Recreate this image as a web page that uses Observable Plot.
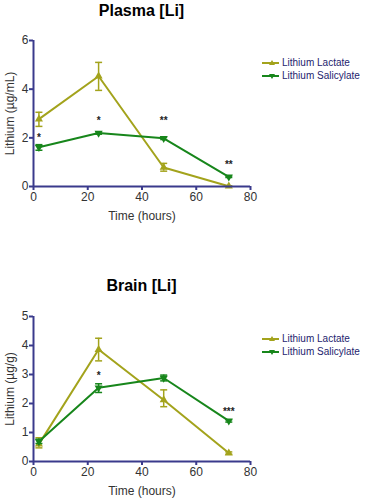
<!DOCTYPE html>
<html>
<head>
<meta charset="utf-8">
<script src="https://cdn.jsdelivr.net/npm/d3@7"></script>
<script src="https://cdn.jsdelivr.net/npm/@observablehq/plot@0.6"></script>
<style>
  body { margin: 0; background: #fff; font-family: "Liberation Sans", Arial, sans-serif; }
  #wrap { position: relative; width: 368px; height: 500px; overflow: hidden; }
  .panel { position: absolute; left: 0; width: 368px; }
  .title { position: absolute; left: 0; width: 283px; text-align: center; font-weight: bold; font-size: 16px; color: #000; }
  .legend { position: absolute; left: 261px; font-size: 10px; color: #24246e; line-height: 13px; white-space: nowrap; }
  .legend div { display: flex; align-items: center; height: 13px; }
  .legend svg { margin-right: 3px; flex: none; }
</style>
</head>
<body>
<div id="wrap"></div>
<script>
// ---- data ----
const hours = [2, 24, 48, 72];
const seriesNames = ["Lithium Lactate", "Lithium Salicylate"];

const plasmaLactate = [2.77, 4.53, 0.78, 0.01];
const plasmaLactateLo = [2.47, 3.95, 0.63, 0.0];
const plasmaLactateHi = [3.05, 5.1, 0.95, 0.03];
const plasmaSalicylate = [1.61, 2.2, 1.98, 0.4];
const plasmaSalicylateLo = [1.49, 2.15, 1.93, 0.37];
const plasmaSalicylateHi = [1.72, 2.25, 2.03, 0.43];
const plasmaStarX = [2, 24, 48, 72];
const plasmaStarY = [2.02, 2.72, 2.72, 0.88];
const plasmaStars = ["*", "*", "**", "**"];

const brainLactate = [0.6, 3.86, 2.12, 0.29];
const brainLactateLo = [0.47, 3.47, 1.89, 0.25];
const brainLactateHi = [0.82, 4.25, 2.47, 0.33];
const brainSalicylate = [0.69, 2.54, 2.88, 1.4];
const brainSalicylateLo = [0.62, 2.38, 2.78, 1.36];
const brainSalicylateHi = [0.77, 2.68, 2.98, 1.44];
const brainStarX = [24, 72];
const brainStarY = [2.96, 1.72];
const brainStars = ["*", "***"];

const colors = ["#a3a31c", "#17861b"];
const axisColor = "#3a3a8c";

const capSymbol = {
  draw(ctx, size) {
    const w = Math.sqrt(size / Math.PI);
    ctx.moveTo(-w, 0);
    ctx.lineTo(w, 0);
  }
};

function build(vals, los, his, name) {
  return hours.map((h, i) => ({ x: h, y: vals[i], lo: los[i], hi: his[i], s: name }));
}

function chart(opts) {
  const lac = build(opts.lac, opts.lacLo, opts.lacHi, seriesNames[0]);
  const sal = build(opts.sal, opts.salLo, opts.salHi, seriesNames[1]);
  const stars = opts.starX.map((x, i) => ({ x, y: opts.starY[i], t: opts.stars[i] }));
  const marks = [];
  [[lac, 0, "triangle", 0], [sal, 1, "triangle", 180]].forEach(([d, k, sym, rot]) => {
    marks.push(Plot.ruleX(d, { x: "x", y1: "lo", y2: "hi", stroke: colors[k], strokeWidth: 1.5 }));
    marks.push(Plot.dot(d, { x: "x", y: "lo", symbol: capSymbol, r: 3.5, stroke: colors[k], strokeWidth: 1.5 }));
    marks.push(Plot.dot(d, { x: "x", y: "hi", symbol: capSymbol, r: 3.5, stroke: colors[k], strokeWidth: 1.5 }));
    marks.push(Plot.line(d, { x: "x", y: "y", stroke: colors[k], strokeWidth: 2 }));
    marks.push(Plot.dot(d, { x: "x", y: "y", symbol: sym, rotate: rot, r: 3, fill: colors[k], stroke: "none" }));
  });
  marks.push(Plot.text(stars, { x: "x", y: "y", text: "t", fontSize: 10, fontWeight: "bold", fill: "#222" }));
  marks.push(Plot.axisX({ ticks: [0, 20, 40, 60, 80], tickFormat: "d", tickSize: 4, stroke: axisColor, strokeWidth: 2, fill: "#333", fontSize: 12, tickPadding: 2,
    label: "Time (hours)", labelAnchor: "center", labelArrow: "none", labelOffset: 33 }));
  marks.push(Plot.axisY({ ticks: opts.yTicks, tickFormat: "d", tickSize: 4, stroke: axisColor, strokeWidth: 2, fill: "#333", fontSize: 12, tickPadding: 1,
    label: opts.yLabel, labelAnchor: "center", labelArrow: "none", labelOffset: 28 }));
  marks.push(Plot.ruleY([0], { stroke: axisColor, strokeWidth: 2 }));
  marks.push(Plot.ruleX([0], { stroke: axisColor, strokeWidth: 2 }));
  return Plot.plot({
    width: 368,
    height: opts.height,
    marginLeft: 33,
    marginRight: 118,
    marginTop: opts.marginTop,
    marginBottom: opts.marginBottom,
    style: { fontFamily: "'Liberation Sans', Arial, sans-serif", fontSize: "12px", color: "#333", background: "transparent" },
    x: { domain: [0, 80] },
    y: { domain: opts.yDomain },
    marks
  });
}

function legend(top) {
  const el = document.createElement("div");
  el.className = "legend";
  el.style.top = top + "px";
  seriesNames.forEach((n, k) => {
    const row = document.createElement("div");
    const tri = k === 0 ? "M11,3 L14,8 L8,8 Z" : "M11,9 L14,4 L8,4 Z";
    row.innerHTML = `<svg width="18" height="12"><line x1="1" x2="18" y1="6" y2="6" stroke="${colors[k]}" stroke-width="2"/><path d="${tri}" fill="${colors[k]}"/></svg><span>${n}</span>`;
    el.appendChild(row);
  });
  return el;
}

const wrap = document.getElementById("wrap");

const p1 = document.createElement("div");
p1.className = "panel"; p1.style.top = "0px";
p1.appendChild(chart({
  lac: plasmaLactate, lacLo: plasmaLactateLo, lacHi: plasmaLactateHi,
  sal: plasmaSalicylate, salLo: plasmaSalicylateLo, salHi: plasmaSalicylateHi,
  starX: plasmaStarX, starY: plasmaStarY, stars: plasmaStars,
  yDomain: [0, 6], yTicks: [0, 2, 4, 6], yLabel: "Lithium (µg/mL)",
  height: 230, marginTop: 40, marginBottom: 44
}));
wrap.appendChild(p1);

const p2 = document.createElement("div");
p2.className = "panel"; p2.style.top = "250px";
p2.appendChild(chart({
  lac: brainLactate, lacLo: brainLactateLo, lacHi: brainLactateHi,
  sal: brainSalicylate, salLo: brainSalicylateLo, salHi: brainSalicylateHi,
  starX: brainStarX, starY: brainStarY, stars: brainStars,
  yDomain: [0, 5], yTicks: [0, 1, 2, 3, 4, 5], yLabel: "Lithium (µg/g)",
  height: 250, marginTop: 66, marginBottom: 39
}));
wrap.appendChild(p2);

const t1 = document.createElement("div");
t1.className = "title"; t1.style.top = "2px"; t1.textContent = "Plasma [Li]";
wrap.appendChild(t1);
const t2 = document.createElement("div");
t2.className = "title"; t2.style.top = "277px"; t2.textContent = "Brain [Li]";
wrap.appendChild(t2);

wrap.appendChild(legend(56));
wrap.appendChild(legend(332));
</script>
</body>
</html>
